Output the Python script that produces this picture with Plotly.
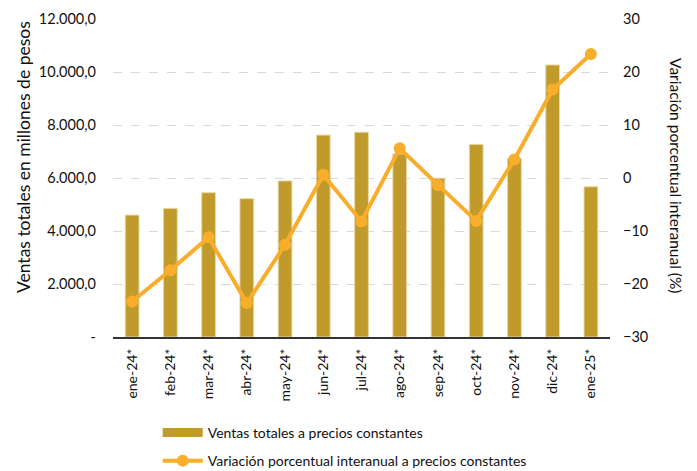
import plotly.graph_objects as go

meses = ["ene-24*", "feb-24*", "mar-24*", "abr-24*", "may-24*", "jun-24*", "jul-24*",
         "ago-24*", "sep-24*", "oct-24*", "nov-24*", "dic-24*", "ene-25*"]
ventas = [4600, 4855, 5445, 5220, 5890, 7620, 7730, 6905, 5990, 7270, 6745, 10265, 5670]
variacion = [-23.3, -17.4, -11.2, -23.6, -12.6, 0.6, -8.2, 5.6, -1.3, -8.1, 3.5, 16.7, 23.4]

left_ticks = [0, 2000, 4000, 6000, 8000, 10000, 12000]
left_text = ["-", "2.000,0", "4.000,0", "6.000,0", "8.000,0", "10.000,0", "12.000,0"]
right_ticks = [-30, -20, -10, 0, 10, 20, 30]

FONT = "Lato, 'Open Sans', sans-serif"
BAR_COLOR = "#C09A2B"
LINE_COLOR = "#F9AE2B"

fig = go.Figure()
fig.add_trace(go.Bar(
    x=meses, y=ventas, name="Ventas totales a precios constantes",
    marker=dict(color=BAR_COLOR, line=dict(color="#E6D9A8", width=1)),
    width=0.36, showlegend=False,
))
# legend-only entry so the bar key is drawn as a wide block like the original
fig.add_trace(go.Scatter(
    x=[None], y=[None], mode="lines", name="Ventas totales a precios constantes",
    line=dict(color=BAR_COLOR, width=9), legendgroup="a",
))
fig.add_trace(go.Scatter(
    x=meses, y=variacion, yaxis="y2", mode="lines+markers",
    name="Variación porcentual interanual a precios constantes",
    line=dict(color=LINE_COLOR, width=4),
    marker=dict(color=LINE_COLOR, size=12), legendgroup="b",
))

# page body adds an 8px offset, so the figure is 8px smaller than the window
fig.update_layout(
    width=689, height=463,
    margin=dict(l=105, r=87, t=11, b=134),
    paper_bgcolor="white", plot_bgcolor="white",
    font=dict(family=FONT, size=14, color="#111"),
    showlegend=True,
    legend=dict(orientation="v", x=0.09, y=0.117, yref="container",
                xanchor="left", yanchor="top",
                font=dict(size=14), tracegroupgap=7, itemwidth=40),
    xaxis=dict(
        range=[-0.5, 12.5],
        tickangle=-90, showline=True, linecolor="#333", linewidth=2,
        ticks="", showgrid=False, tickfont=dict(size=14), automargin=False,
        ticklabelstandoff=4,
    ),
    yaxis=dict(
        range=[0, 12000], tickvals=left_ticks, ticktext=left_text,
        showgrid=True, gridcolor="#D9D9D9", griddash="dash", gridwidth=1,
        zeroline=False, ticks="", tickfont=dict(size=14.5), automargin=False,
        ticklabelstandoff=16,
    ),
    yaxis2=dict(
        range=[-30, 30], tickvals=right_ticks, overlaying="y", side="right",
        showgrid=False, zeroline=False, ticks="", tickfont=dict(size=14.5), automargin=False,
        ticklabelstandoff=12,
    ),
    annotations=[
        dict(text="Ventas totales en millones de pesos", textangle=-90,
             xref="paper", yref="paper", x=-0.181, y=0.566, showarrow=False,
             xanchor="center", yanchor="middle", font=dict(size=17.5)),
        dict(text="Variación porcentual interanual (%)", textangle=90,
             xref="paper", yref="paper", x=1.133, y=0.509, showarrow=False,
             xanchor="center", yanchor="middle", font=dict(size=15.5)),
    ],
)

fig.write_html("out.html")
